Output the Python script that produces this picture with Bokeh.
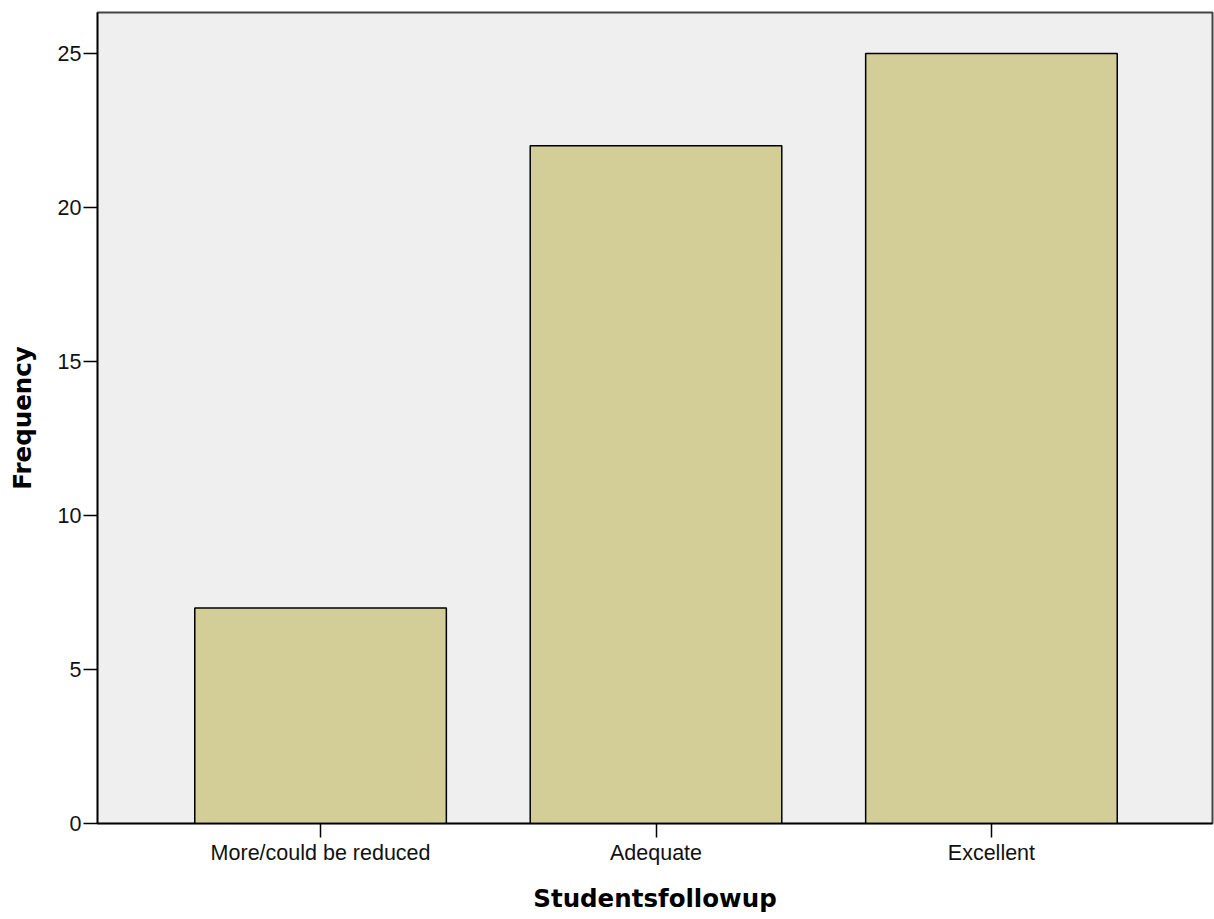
from bokeh.plotting import figure
from bokeh.models import Range1d, FixedTicker, ColumnDataSource
from bokeh.embed import file_html
from bokeh.resources import INLINE

categories = ["More/could be reduced", "Adequate", "Excellent"]
frequency = [7, 22, 25]
y_ticks = [0, 5, 10, 15, 20, 25]

positions = list(range(1, len(categories) + 1))
source = ColumnDataSource(dict(x=positions, top=frequency, cat=categories))

p = figure(width=1214, height=919, output_backend="svg", toolbar_location=None,
           x_range=Range1d(0.335, 3.659), y_range=Range1d(0, 26.33),
           min_border_left=97, min_border_right=2, min_border_top=12, min_border_bottom=96)

p.vbar(x="x", top="top", width=0.75, bottom=0, source=source,
       fill_color="#D3CD98", line_color="#000000", line_width=1.5)

p.background_fill_color = "#EFEFEF"
p.border_fill_color = "white"
p.outline_line_color = "#444444"
p.outline_line_width = 2
p.xgrid.visible = False
p.ygrid.visible = False

p.xaxis.ticker = FixedTicker(ticks=positions)
p.xaxis.major_label_overrides = {pos: c for pos, c in zip(positions, categories)}
p.yaxis.ticker = FixedTicker(ticks=y_ticks)

for ax in (p.xaxis[0], p.yaxis[0]):
    ax.axis_line_color = "black"
    ax.axis_line_width = 1.5
    ax.major_tick_line_color = "black"
    ax.major_tick_line_width = 1.5
    ax.major_tick_in = 0
    ax.major_tick_out = 14
    ax.minor_tick_line_color = None
    ax.major_label_text_font = "Liberation Sans"
    ax.major_label_text_font_size = "21.5px"
    ax.major_label_text_color = "#111111"
    ax.axis_label_text_font = "DejaVu Sans"
    ax.axis_label_text_font_style = "bold"
    ax.axis_label_text_font_size = "24.5px"
    ax.axis_label_text_color = "black"

p.xaxis.axis_label = "Studentsfollowup"
p.yaxis.axis_label = "Frequency"
p.xaxis.major_label_standoff = 3
p.yaxis.major_label_standoff = 2
p.xaxis.axis_label_standoff = 16
p.yaxis.axis_label_standoff = 18

open("out.html", "w").write(file_html(p, INLINE))
